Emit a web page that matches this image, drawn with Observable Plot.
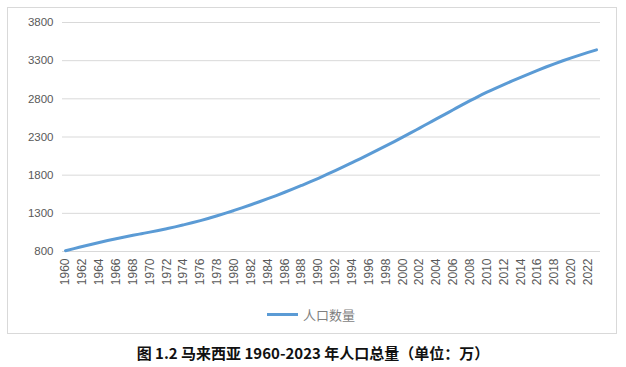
<!DOCTYPE html>
<html>
<head>
<meta charset="utf-8">
<script src="https://cdn.jsdelivr.net/npm/d3@7"></script>
<script src="https://cdn.jsdelivr.net/npm/@observablehq/plot@0.6"></script>
<style>
  html, body { margin: 0; padding: 0; background: #fff; }
  body { width: 626px; height: 367px; position: relative; overflow: hidden; }
  #box { position: absolute; left: 7px; top: 7px; width: 608px; height: 325px; border: 1px solid #d9d9d9; background: #fff; }
  #chart { position: absolute; left: 0; top: 0; }
  #legend { position: absolute; left: 259px; top: 297px; height: 18px; display: flex; align-items: center; font-family: "Noto Sans CJK SC", sans-serif; font-size: 13px; color: #7f7f7f; }
  #legend .sw { width: 31px; height: 3px; background: #5b9bd5; margin-right: 5px; }
  #caption { position: absolute; left: 0; width: 626px; top: 342px; text-align: center; font-family: "Noto Sans CJK SC", sans-serif; font-size: 15px; font-weight: bold; color: #111; }
</style>
</head>
<body>
<div id="box">
  <div id="chart"></div>
  <div id="legend"><div class="sw"></div><span>人口数量</span></div>
</div>
<div id="caption">图 1.2 马来西亚 1960-2023 年人口总量（单位：万）</div>
<script>
const years = [1960,1961,1962,1963,1964,1965,1966,1967,1968,1969,1970,1971,1972,1973,1974,1975,1976,1977,1978,1979,1980,1981,1982,1983,1984,1985,1986,1987,1988,1989,1990,1991,1992,1993,1994,1995,1996,1997,1998,1999,2000,2001,2002,2003,2004,2005,2006,2007,2008,2009,2010,2011,2012,2013,2014,2015,2016,2017,2018,2019,2020,2021,2022,2023];
const population = [810,838,865,892,918,943,967,990,1012,1033,1054,1076,1099,1123,1149,1176,1205,1236,1268,1302,1338,1375,1413,1452,1492,1533,1576,1620,1665,1711,1759,1809,1860,1912,1965,2018,2072,2127,2183,2240,2298,2357,2417,2477,2537,2597,2657,2717,2776,2833,2887,2938,2987,3035,3082,3128,3173,3217,3259,3299,3337,3373,3408,3442];
const xTickYears = [1960,1962,1964,1966,1968,1970,1972,1974,1976,1978,1980,1982,1984,1986,1988,1990,1992,1994,1996,1998,2000,2002,2004,2006,2008,2010,2012,2014,2016,2018,2020,2022];
const yTicks = [800,1300,1800,2300,2800,3300,3800];
const seriesName = "人口数量";

const data = years.map((y, i) => ({year: y, pop: population[i]}));

const chart = Plot.plot({
  width: 608,
  height: 290,
  marginTop: 14,
  marginBottom: 47,
  marginLeft: 54,
  marginRight: 16,
  style: {fontFamily: "'Liberation Sans', Arial, sans-serif", fontSize: "11.5px", color: "#595959", background: "transparent"},
  x: {domain: [1959.64, 2023.47], ticks: xTickYears, tickFormat: d => String(d), tickRotate: -90, tickSize: 0, tickPadding: 7, label: null},
  y: {domain: [800, 3800], ticks: yTicks, tickFormat: d => String(d), tickSize: 0, tickPadding: 9, label: null},
  marks: [
    Plot.ruleY(yTicks, {stroke: "#d9d9d9", strokeWidth: 1}),
    Plot.axisX({ticks: xTickYears, tickFormat: d => String(d), tickRotate: -90, tickSize: 0, tickPadding: 7, label: null, fontSize: 12}),
    Plot.lineY(data, {x: "year", y: "pop", stroke: "#5b9bd5", strokeWidth: 3, curve: "monotone-x"})
  ]
});
document.getElementById("chart").appendChild(chart);
</script>
</body>
</html>
